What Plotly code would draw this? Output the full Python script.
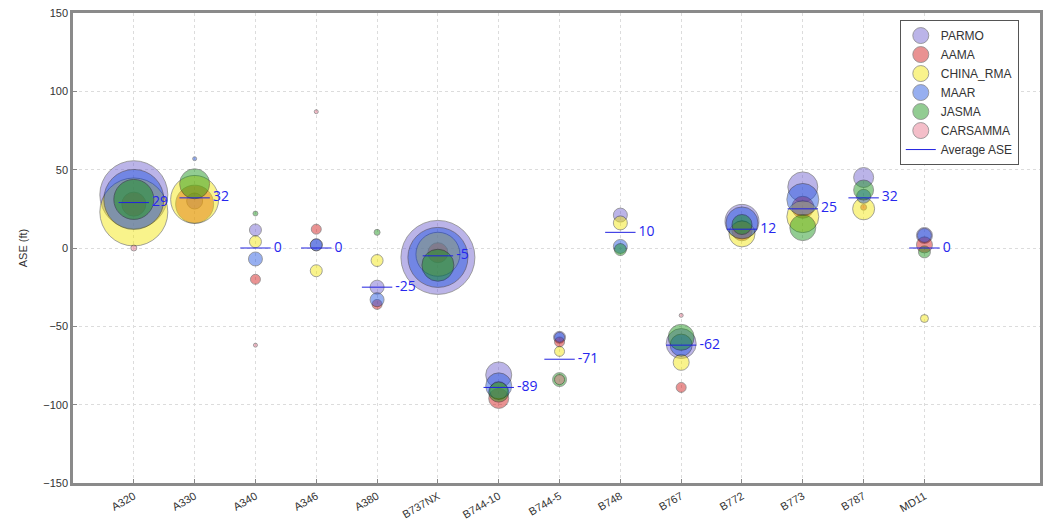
import plotly.graph_objects as go

aircraft = ["A320", "A330", "A340", "A346", "A380", "B737NX", "B744-10", "B744-5",
            "B748", "B767", "B772", "B773", "B787", "MD11"]

series_names = ["PARMO", "AAMA", "CHINA_RMA", "MAAR", "JASMA", "CARSAMMA"]

# ASE mean values (ft) per aircraft type, per RMA
parmo_ase = [34, 30, 11.5, 2, -25, -6, -81, -57, 21, -61, 17, 39, 45, 8]
aama_ase = [28, 28, -20, 12, -36, -3, -96, -60, None, -89, 11, 26, 26, 2]
china_ase = [23, 31, 4, -14.5, -8, -4, -91, -66, 16, -73, 9, 20, 25, -45]
maar_ase = [31, 57, -7, 2, -33, -6, -88, -57, 1, -62, 16, 31, 33, 8]
jasma_ase = [31, 41, 22, None, 10, -11, -92, -84, -1, -57, 15, 13, 37, -2.5]
carsamma_ase = [0, None, -62, 87, None, None, None, -84, None, -43, None, None, None, None]

# sample counts (bubble area)
parmo_n = [11560, 640, 360, 360, 490, 13690, 1690, 360, 490, 2250, 2890, 2250, 1000, 640]
aama_n = [1440, 3610, 250, 250, 250, 1000, 1000, 250, 0, 250, 1000, 1210, 90, 640]
china_n = [11560, 5760, 360, 360, 360, 4840, 810, 250, 490, 640, 1690, 2560, 1210, 160]
maar_n = [9000, 40, 490, 360, 490, 9000, 1690, 250, 490, 1210, 2560, 2560, 490, 490]
jasma_n = [4000, 2250, 60, 0, 90, 2560, 1000, 490, 360, 1690, 1000, 1690, 1000, 360]
carsamma_n = [90, 0, 25, 25, 0, 0, 0, 250, 0, 40, 0, 0, 0, 0]

avg_ase = [29, 32, 0, 0, -25, -5, -89, -71, 10, -62, 12, 25, 32, 0]

ase_data = [parmo_ase, aama_ase, china_ase, maar_ase, jasma_ase, carsamma_ase]
n_data = [parmo_n, aama_n, china_n, maar_n, jasma_n, carsamma_n]
colors = ["#6a5acd", "#d01010", "#f2e600", "#1a4fe0", "#109010", "#e8708a"]

idx = list(range(len(aircraft)))
SIZEREF = 5.0

fig = go.Figure()
for name, ys, ns, col in zip(series_names, ase_data, n_data, colors):
    xs, yy, ss = [], [], []
    for i, y, n in zip(idx, ys, ns):
        if y is None or n == 0:
            continue
        xs.append(i)
        yy.append(y)
        ss.append(n)
    fig.add_trace(go.Scatter(
        x=xs, y=yy, mode="markers", name=name,
        marker=dict(size=ss, sizemode="area", sizeref=SIZEREF, sizemin=2,
                    color=col, opacity=0.45,
                    line=dict(color="black", width=0.8)),
    ))

# average lines
lx, ly = [], []
for i, a in zip(idx, avg_ase):
    lx += [i - 0.25, i + 0.25, None]
    ly += [a, a, None]
fig.add_trace(go.Scatter(x=lx, y=ly, mode="lines", name="Average ASE",
                         line=dict(color="#2020e0", width=1)))
fig.add_trace(go.Scatter(
    x=[i + 0.3 for i in idx], y=avg_ase, mode="text",
    text=[str(a) for a in avg_ase], textposition="middle right",
    textfont=dict(color="#2626ee", size=14, family="Open Sans"),
    showlegend=False, hoverinfo="skip"))

axis_font = dict(family="Liberation Sans", size=11, color="#333")
fig.update_layout(
    width=1043, height=529,
    margin=dict(l=73, r=0, t=13, b=46),
    paper_bgcolor="white", plot_bgcolor="white",
    font=axis_font,
    legend=dict(x=0.855, y=0.985, xanchor="left", yanchor="top",
                bordercolor="#555", borderwidth=1, bgcolor="white",
                itemsizing="trace", font=dict(family="Liberation Sans", size=12, color="#333"),
                tracegroupgap=0),
)
fig.update_xaxes(range=[-1, 14.9], tickmode="array", tickvals=idx, ticktext=aircraft,
                 tickangle=-30, showgrid=True, gridcolor="#dcdcdc", griddash="dot",
                 showline=True, linecolor="#8a8a8a", linewidth=2.5, mirror=True,
                 zeroline=False, ticks="inside", ticklen=4, tickcolor="#888",
                 tickfont=axis_font)
fig.update_yaxes(range=[-150, 150], dtick=50, showgrid=True, gridcolor="#dcdcdc",
                 griddash="dot", showline=True, linecolor="#8a8a8a", linewidth=2.5,
                 mirror=True, zeroline=False, ticks="inside", ticklen=4, tickcolor="#888",
                 title=dict(text="ASE (ft)", font=axis_font, standoff=14),
                 tickfont=axis_font)

fig.write_html("out.html", config={"displayModeBar": False},
               post_script="document.body.style.margin='0';")
